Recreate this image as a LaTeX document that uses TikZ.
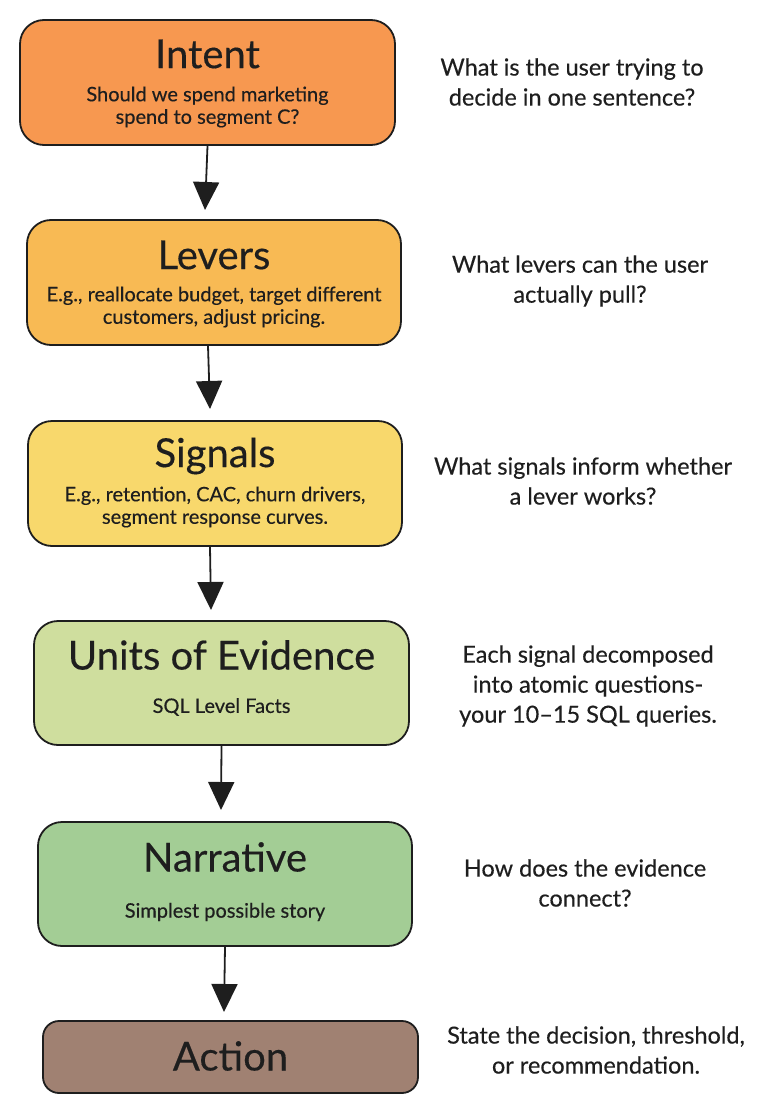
\documentclass[tikz,border=0pt]{standalone}
\usepackage{fontspec}
\setmainfont{Lato}[FakeBold=0.35]
\usetikzlibrary{arrows.meta,calc}
\definecolor{ink}{HTML}{1E1E1E}
\definecolor{cIntent}{HTML}{F79850}
\definecolor{cLevers}{HTML}{F8BA54}
\definecolor{cSignals}{HTML}{F8D86C}
\definecolor{cUnits}{HTML}{CFDE9E}
\definecolor{cNarr}{HTML}{A3CD95}
\definecolor{cAction}{HTML}{A08172}
\tikzset{
  stagebox/.style={draw=ink, line width=1.8pt, rounded corners=24pt, minimum width=375pt, inner sep=0pt},
  titletext/.style={text=ink, font=\fontsize{40}{46}\selectfont, inner sep=0pt},
  subtext/.style={text=ink, font=\fontsize{20}{22.5}\selectfont, align=center, inner sep=0pt},
  sidetext/.style={text=ink, font=\fontsize{23.5}{30}\selectfont, align=center, inner sep=0pt},
  flow/.style={draw=ink, line width=1.8pt, -{Triangle[width=26pt,length=28pt]}}
}
\begin{document}
\begin{tikzpicture}[x=1pt,y=-1pt]
\useasboundingbox (0,0) rectangle (774,1113);
% boxes
\node[stagebox, fill=cIntent, minimum height=125pt] (intent) at (207.5,82.5) {};
\node[stagebox, fill=cLevers, minimum height=125pt, minimum width=374pt] (levers) at (214,282.5) {};
\node[stagebox, fill=cSignals, minimum height=125pt, minimum width=374pt] (signals) at (215,483.5) {};
\node[stagebox, fill=cUnits, minimum height=124pt] (units) at (221.5,683) {};
\node[stagebox, fill=cNarr, minimum height=124pt, minimum width=374pt] (narr) at (225,884) {};
\node[stagebox, fill=cAction, minimum height=72pt, rounded corners=16pt] (action) at (230.5,1057) {};
% titles
\node[titletext] (intentT) at (207.5,54) {Intent};
\node[titletext] (leversT) at (214,255) {Levers};
\node[titletext] (signalsT) at (215,456) {Signals};
\node[titletext] (unitsT) at (221.5,655) {Units of Evidence};
\node[titletext] (narrT) at (225,857) {Narrative};
\node[titletext] (actionT) at (230.5,1056) {Action};
% subtitles
\node[subtext] (intentS) at (207.5,107) {Should we spend marketing\\spend to segment C?};
\node[subtext] (leversS) at (214,307) {E.g., reallocate budget, target different\\customers, adjust pricing.};
\node[subtext] (signalsS) at (215,507) {E.g., retention, CAC, churn drivers,\\segment response curves.};
\node[subtext] (unitsS) at (221.5,707) {SQL Level Facts};
\node[subtext] (narrS) at (225,912) {Simplest possible story};
% side questions
\node[sidetext] (q1) at (572,82) {What is the user trying to\\decide in one sentence?};
\node[sidetext] (q2) at (580,281) {What levers can the user\\actually pull?};
\node[sidetext] (q3) at (583,481) {What signals inform whether\\a lever works?};
\node[sidetext] (q4) at (588,686) {Each signal decomposed\\into atomic questions-\\your 10--15 SQL queries.};
\node[sidetext] (q5) at (585,883) {How does the evidence\\connect?};
\node[sidetext] (q6) at (596,1050) {State the decision, threshold,\\or recommendation.};
% arrow tips
\coordinate (t1) at (205,210);
\coordinate (t2) at (210,409);
\coordinate (t3) at (211,610);
\coordinate (t4) at (221,810);
\coordinate (t5) at (224,1012);
\draw[flow] (intent.south) -- (t1);
\draw[flow] ($(levers.south)+(-6,0)$) -- (t2);
\draw[flow] ($(signals.south)+(-5,0)$) -- (t3);
\draw[flow] (units.south) -- (t4);
\draw[flow] (narr.south) -- (t5);
\end{tikzpicture}
\end{document}
